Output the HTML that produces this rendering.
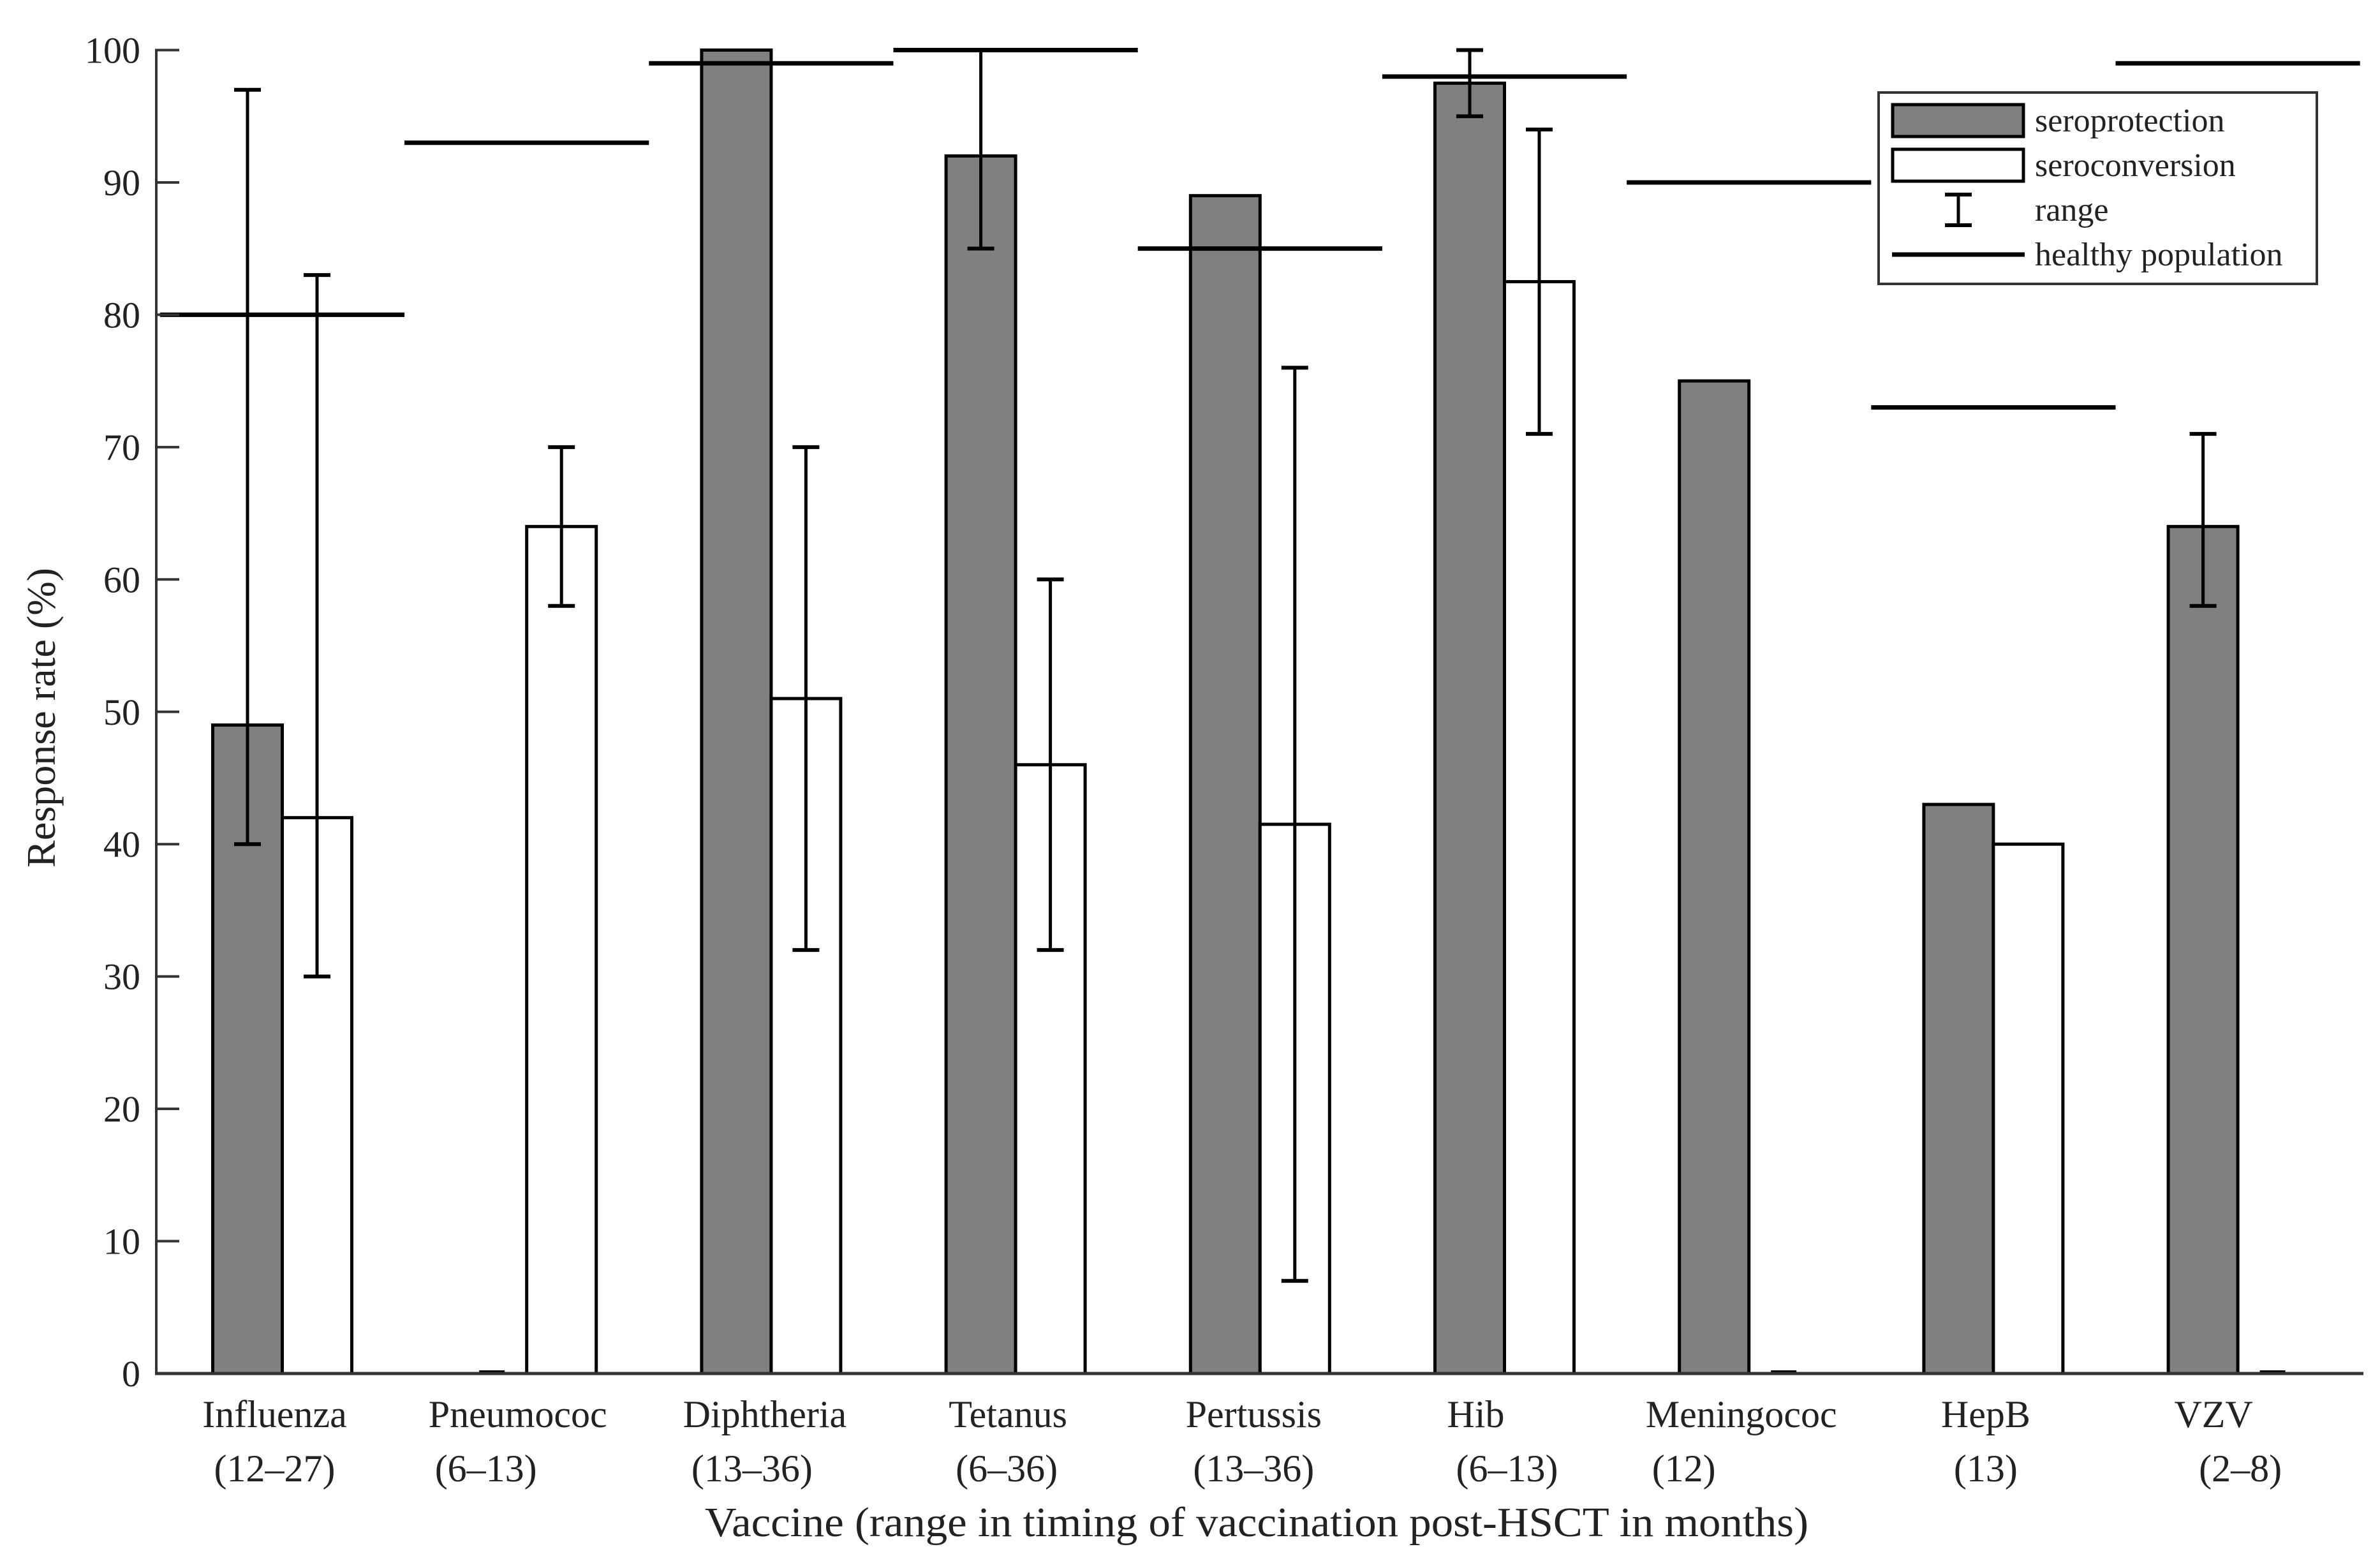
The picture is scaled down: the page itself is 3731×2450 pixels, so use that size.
<!DOCTYPE html>
<html><head><meta charset="utf-8"><style>
html,body{margin:0;padding:0;background:#fff;}
svg{display:block;}
text{font-family:"Liberation Serif",serif;fill:#222;}
</style></head><body>
<svg id="chart" width="3731" height="2450" viewBox="0 0 3731 2450" xmlns="http://www.w3.org/2000/svg">
<g id="plot"></g>
<g id="legend">
  <rect x="2945" y="145" width="687" height="300" fill="#fff" stroke="#333" stroke-width="4"/>
  <rect x="2967" y="164" width="205" height="50" fill="#808080" stroke="#000" stroke-width="5"/>
  <text x="3190" y="206" font-size="52">seroprotection</text>
  <rect x="2967" y="234" width="205" height="50" fill="#fff" stroke="#000" stroke-width="5"/>
  <text x="3190" y="276" font-size="52">seroconversion</text>
  <g stroke="#000">
    <line x1="3070" y1="305" x2="3070" y2="353" stroke-width="5"/>
    <line x1="3049" y1="305" x2="3091" y2="305" stroke-width="6"/>
    <line x1="3049" y1="353" x2="3091" y2="353" stroke-width="6"/>
  </g>
  <text x="3190" y="346" font-size="52">range</text>
  <line x1="2966" y1="399" x2="3174" y2="399" stroke="#000" stroke-width="7"/>
  <text x="3190" y="416" font-size="52">healthy population</text>
</g>
</svg>
<script>
const categories = ["Influenza","Pneumococ","Diphtheria","Tetanus","Pertussis","Hib","Meningococ","HepB","VZV"];
const timing = ["(12\u201327)","(6\u201313)","(13\u201336)","(6\u201336)","(13\u201336)","(6\u201313)","(12)","(13)","(2\u20138)"];
const seroprotection = [49, 0, 100, 92, 89, 97.5, 75, 43, 64];
const seroconversion = [42, 64, 51, 46, 41.5, 82.5, 0, 40, 0];
const spLow  = [40, null, null, 85, null, 95, null, null, 58];
const spHigh = [97, null, null, 100, null, 100, null, null, 71];
const scLow  = [30, 58, 32, 32, 7, 71, null, null, null];
const scHigh = [83, 70, 70, 60, 76, 94, null, null, null];
const healthy = [80, 93, 99, 100, 85, 98, 90, 73, 99];
const yTicks = [0,10,20,30,40,50,60,70,80,90,100];
const labelShift1 = [-12,-14,-10,-12,-10,-45,-12,-12,-38];
const labelShift2 = [-12,-64,-30,-14,-10,4,-102,-12,4];

const NS = "http://www.w3.org/2000/svg";
const plot = document.getElementById("plot");
const X0 = 245, Y0 = 2153, Y100 = 78.5, XEND = 3705;
const firstCenter = 442.5, step = 383.2, barW = 109;
function y(v){ return Y0 - (Y0 - Y100) * v / 100; }
function cx(i){ return firstCenter + step * i; }
function mk(tag, attrs){
  const e = document.createElementNS(NS, tag);
  for (const k in attrs) e.setAttribute(k, attrs[k]);
  plot.appendChild(e);
  return e;
}

categories.forEach((c, i) => {
  [[seroprotection, "#808080", -1, "seroprotection"], [seroconversion, "#fff", 0, "seroconversion"]].forEach(([arr, fill, off, nm]) => {
    const v = arr[i];
    const x = cx(i) + off * barW;
    let el;
    if (v > 0) {
      el = mk("rect", {x: x, y: y(v), width: barW, height: Y0 - y(v), fill: fill, stroke: "#000", "stroke-width": 5});
    } else {
      el = mk("line", {x1: x + barW/2 - 20, x2: x + barW/2 + 20, y1: Y0 - 2, y2: Y0 - 2, stroke: "#000", "stroke-width": 6});
    }
    
    
  });
});

categories.forEach((c, i) => {
  [[spLow, spHigh, -0.5, "seroprotection"], [scLow, scHigh, 0.5, "seroconversion"]].forEach(([lo, hi, off, nm]) => {
    if (lo[i] == null) return;
    const x = cx(i) + off * barW;
    const g = document.createElementNS(NS, "g");
    
    
    plot.appendChild(g);
    const parts = [
      {x1: x, x2: x, y1: y(hi[i]), y2: y(lo[i]), "stroke-width": 5},
      {x1: x - 21, x2: x + 21, y1: y(hi[i]), y2: y(hi[i]), "stroke-width": 6},
      {x1: x - 21, x2: x + 21, y1: y(lo[i]), y2: y(lo[i]), "stroke-width": 6}
    ];
    parts.forEach(p => {
      const l = document.createElementNS(NS, "line");
      for (const k in p) l.setAttribute(k, p[k]);
      l.setAttribute("stroke", "#000");
      g.appendChild(l);
    });
  });
});

categories.forEach((c, i) => {
  const l = mk("line", {x1: cx(i) - step/2, x2: cx(i) + step/2, y1: y(healthy[i]), y2: y(healthy[i]), stroke: "#000", "stroke-width": 7});
  
  
});

const ya = mk("line", {x1: X0, x2: X0, y1: Y100 - 2, y2: Y0 + 2, stroke: "#333", "stroke-width": 4});


const xa = mk("line", {x1: X0 - 2, x2: XEND, y1: Y0, y2: Y0, stroke: "#333", "stroke-width": 5});



yTicks.forEach(t => {
  const tk = mk("line", {x1: X0, x2: X0 + 36, y1: y(t), y2: y(t), stroke: "#333", "stroke-width": 4});
  
  
  const tx = mk("text", {x: 220, y: y(t) + 20, "font-size": 58, "text-anchor": "end"});
  tx.textContent = t;
  
  
});

categories.forEach((c, i) => {
  const t1 = mk("text", {x: cx(i) + labelShift1[i], y: 2237, "font-size": 60, "text-anchor": "middle"});
  t1.textContent = c;
  
  
  const t2 = mk("text", {x: cx(i) + labelShift2[i], y: 2322, "font-size": 60, "text-anchor": "middle"});
  t2.textContent = timing[i];
  
  
});

const xt = mk("text", {x: 1105, y: 2408, "font-size": 66, textLength: 1730, lengthAdjust: "spacingAndGlyphs"});
xt.textContent = "Vaccine (range in timing of vaccination post-HSCT in months)";



const yt = mk("text", {x: -235, y: 0, "font-size": 64, textLength: 470, lengthAdjust: "spacingAndGlyphs", transform: "translate(86,1125) rotate(-90)"});
yt.textContent = "Response rate (%)";


</script>
</body></html>
